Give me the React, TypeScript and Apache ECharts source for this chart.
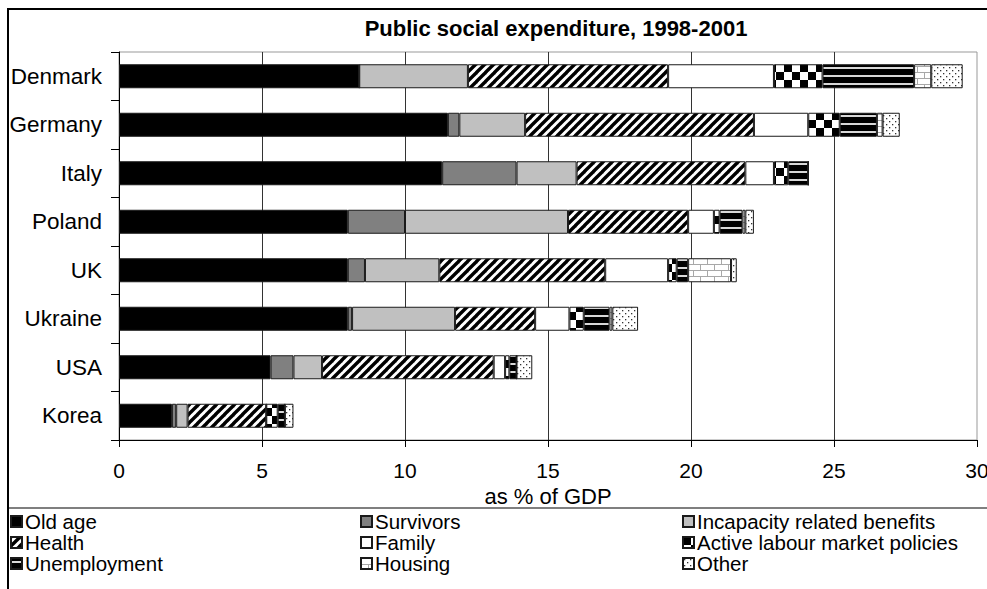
import React, { useEffect, useRef } from "react";
import * as echarts from "echarts";

const countries = ["Denmark", "Germany", "Italy", "Poland", "UK", "Ukraine", "USA", "Korea"];
const seriesNames = [
  "Old age",
  "Survivors",
  "Incapacity related benefits",
  "Health",
  "Family",
  "Active labour market policies",
  "Unemployment",
  "Housing",
  "Other",
];
const oldAge = [8.4, 11.5, 11.3, 8.0, 8.0, 8.0, 5.3, 1.85];
const survivors = [0, 0.4, 2.6, 2.0, 0.6, 0.15, 0.8, 0.15];
const incapacity = [3.8, 2.3, 2.1, 5.7, 2.6, 3.6, 1.0, 0.4];
const health = [7.0, 8.0, 5.9, 4.2, 5.8, 2.8, 6.0, 2.75];
const family = [3.7, 1.9, 1.0, 0.9, 2.2, 1.2, 0.4, 0];
const almp = [1.7, 1.1, 0.5, 0.2, 0.3, 0.5, 0.15, 0.4];
const unemployment = [3.2, 1.3, 0.7, 0.8, 0.4, 0.9, 0.25, 0.25];
const housing = [0.6, 0.2, 0, 0.1, 1.5, 0.1, 0, 0];
const other = [1.1, 0.6, 0, 0.3, 0.2, 0.9, 0.55, 0.3];
const xTicks = [0, 5, 10, 15, 20, 25, 30];

const FONT = "'Liberation Sans', Arial, sans-serif";

function tile(w: number, h: number, draw: (ctx: CanvasRenderingContext2D) => void) {
  const c = document.createElement("canvas");
  c.width = w;
  c.height = h;
  const ctx = c.getContext("2d") as CanvasRenderingContext2D;
  draw(ctx);
  return { image: c, repeat: "repeat", imageWidth: w, imageHeight: h } as any;
}

function makeFills() {
  const stripes = tile(9, 9, (ctx) => {
    ctx.fillStyle = "#fff";
    ctx.fillRect(0, 0, 9, 9);
    ctx.strokeStyle = "#000";
    ctx.lineWidth = 3.4;
    for (let k = -1; k <= 1; k++) {
      ctx.beginPath();
      ctx.moveTo(k * 9 - 1, 10);
      ctx.lineTo(k * 9 + 10, -1);
      ctx.stroke();
    }
  });
  const checker = tile(16, 16, (ctx) => {
    ctx.fillStyle = "#fff";
    ctx.fillRect(0, 0, 16, 16);
    ctx.fillStyle = "#000";
    ctx.fillRect(0, 0, 8, 8);
    ctx.fillRect(8, 8, 8, 8);
  });
  const hlines = tile(8, 8, (ctx) => {
    ctx.fillStyle = "#000";
    ctx.fillRect(0, 0, 8, 8);
    ctx.fillStyle = "#d8d8d8";
    ctx.fillRect(0, 3, 8, 2);
  });
  const bricks = tile(14, 12, (ctx) => {
    ctx.fillStyle = "#fff";
    ctx.fillRect(0, 0, 14, 12);
    ctx.fillStyle = "#a8a8a8";
    ctx.fillRect(0, 0, 14, 1);
    ctx.fillRect(0, 6, 14, 1);
    ctx.fillRect(0, 0, 1, 6);
    ctx.fillRect(7, 6, 1, 6);
  });
  const dots = tile(6, 6, (ctx) => {
    ctx.fillStyle = "#fff";
    ctx.fillRect(0, 0, 6, 6);
    ctx.fillStyle = "#333";
    ctx.fillRect(1, 1, 1.3, 1.3);
    ctx.fillRect(4, 4, 1.3, 1.3);
  });
  return ["#000000", "#808080", "#c0c0c0", stripes, "#ffffff", checker, hlines, bricks, dots];
}

export default function App() {
  const ref = useRef<HTMLDivElement>(null);
  useEffect(() => {
    if (!ref.current) return;
    const chart = echarts.init(ref.current, null, { renderer: "svg" });
    const fills = makeFills();
    const values = [oldAge, survivors, incapacity, health, family, almp, unemployment, housing, other];
    const series = seriesNames.map((name, i) => ({
      name,
      type: "bar",
      stack: "total",
      barWidth: 24,
      data: values[i],
      itemStyle: { color: fills[i], borderColor: "#1a1a1a", borderWidth: 1 },
      emphasis: { disabled: true },
    }));
    const legendCommon = {
      orient: "vertical",
      top: 511,
      itemWidth: 11,
      itemHeight: 11,
      itemGap: 0,
      icon: "rect",
      textStyle: { fontFamily: FONT, fontSize: 20.5, color: "#000", lineHeight: 20, padding: [0, 0, 0, -2] },
      padding: 0,
      selectedMode: false,
    };
    chart.setOption({
      animation: false,
      backgroundColor: "#fff",
      textStyle: { fontFamily: FONT },
      grid: {
        left: 119,
        top: 52,
        right: 10,
        bottom: 149,
        show: true,
        borderColor: "#999",
        borderWidth: 1,
        containLabel: false,
        outerBoundsMode: "none",
      },
      xAxis: {
        type: "value",
        min: xTicks[0],
        max: xTicks[xTicks.length - 1],
        interval: 5,
        name: "as % of GDP",
        nameLocation: "middle",
        nameGap: 36,
        nameTextStyle: { fontFamily: FONT, fontSize: 22, color: "#000" },
        axisLine: { show: true, lineStyle: { color: "#000", width: 1 } },
        axisTick: { show: true, length: 7, lineStyle: { color: "#000" } },
        axisLabel: { fontFamily: FONT, fontSize: 21, color: "#000", margin: 20 },
        splitLine: { show: true, showMinLine: false, showMaxLine: false, lineStyle: { color: "#333", width: 1 } },
      },
      yAxis: {
        type: "category",
        data: countries,
        inverse: true,
        axisLine: { show: true, lineStyle: { color: "#000", width: 1 } },
        axisTick: { show: true, length: 8, lineStyle: { color: "#000" } },
        axisLabel: { fontFamily: FONT, fontSize: 22.5, color: "#000", margin: 17 },
        splitLine: { show: false },
      },
      legend: [
        { ...legendCommon, left: 10, data: [seriesNames[0], seriesNames[3], seriesNames[6]] },
        { ...legendCommon, left: 360, data: [seriesNames[1], seriesNames[4], seriesNames[7]] },
        { ...legendCommon, left: 682, data: [seriesNames[2], seriesNames[5], seriesNames[8]] },
      ],
      graphic: [
        {
          type: "rect",
          shape: { x: 8, y: 9, width: 1000, height: 620 },
          style: { fill: "none", stroke: "#000", lineWidth: 2 },
          silent: true,
          z: 100,
        },
        {
          type: "line",
          shape: { x1: 8, y1: 508, x2: 990, y2: 508 },
          style: { stroke: "#555", lineWidth: 1.5 },
          silent: true,
        },
        {
          type: "text",
          x: 556,
          y: 28,
          style: {
            text: "Public social expenditure, 1998-2001",
            fontFamily: FONT,
            fontSize: 22,
            fontWeight: "bold",
            fill: "#000",
            textAlign: "center",
            textVerticalAlign: "middle",
          },
          silent: true,
        },
      ],
      series,
    });
    return () => chart.dispose();
  }, []);
  return <div ref={ref} style={{ width: 987, height: 589, position: "absolute", left: 0, top: 0 }} />;
}
